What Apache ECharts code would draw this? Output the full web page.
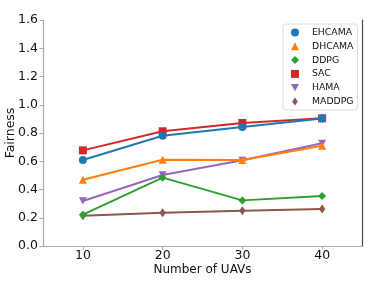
<!DOCTYPE html>
<html>
<head>
<meta charset="utf-8">
<script src="https://cdn.jsdelivr.net/npm/echarts@6/dist/echarts.min.js"></script>
<style>html,body{margin:0;padding:0;background:#fff;}#c{width:382px;height:285px;}</style>
</head>
<body>
<div id="c"></div>
<script>
var uavs = [10, 20, 30, 40];
var yTicks = [0, 0.2, 0.4, 0.6, 0.8, 1.0, 1.2, 1.4, 1.6];
var EHCAMA = [0.609, 0.781, 0.842, 0.903];
var DHCAMA = [0.469, 0.611, 0.609, 0.710];
var DDPG   = [0.222, 0.484, 0.323, 0.354];
var SAC    = [0.677, 0.812, 0.871, 0.904];
var HAMA   = [0.319, 0.503, 0.607, 0.727];
var MADDPG = [0.215, 0.236, 0.250, 0.262];

var names = ['EHCAMA','DHCAMA','DDPG','SAC','HAMA','MADDPG'];
var vals = [EHCAMA, DHCAMA, DDPG, SAC, HAMA, MADDPG];
var colors = ['#1f77b4','#ff7f0e','#2ca02c','#d62728','#9467bd','#8c564b'];
var symbols = ['circle','triangle','diamond','rect','path://M0,0 L10,0 L5,9 Z','path://M5,0 L8.5,5 L5,10 L1.5,5 Z'];
var sizes = [8, 8, 8, 8, 8, 9];

var series = names.map(function(n, i){
  return {
    name: n, type: 'line',
    data: uavs.map(function(x, j){ return [x, vals[i][j]]; }),
    symbol: symbols[i], symbolSize: sizes[i], symbolKeepAspect: true,
    lineStyle: {color: colors[i], width: 2},
    itemStyle: {color: colors[i]},
    z: 10 - i
  };
});

var chart = echarts.init(document.getElementById('c'));
chart.setOption({
  animation: false,
  grid: {left: 43, right: 20, top: 20, bottom: 39, containLabel: false, outerBoundsMode: 'none'},
  xAxis: {
    type: 'value', min: 5, max: 45,
    name: 'Number of UAVs', nameLocation: 'middle', nameGap: 18, nameMoveOverlap: false,
    nameTextStyle: {fontFamily: 'DejaVu Sans', fontSize: 12, color: '#111'},
    axisLine: {lineStyle: {color: '#aaa', width: 1.2}},
    axisTick: {show: true, length: 3.5, lineStyle: {color: '#aaa'}, customValues: uavs},
    axisLabel: {fontFamily: 'DejaVu Sans', fontSize: 12.5, color: '#111', margin: 3, customValues: uavs},
    splitLine: {show: false}
  },
  yAxis: [{
    type: 'value', min: 0, max: 1.6, interval: 0.2,
    name: 'Fairness', nameLocation: 'middle', nameGap: 26, nameRotate: 90, nameMoveOverlap: false,
    nameTextStyle: {fontFamily: 'DejaVu Sans', fontSize: 12.5, color: '#111'},
    axisLine: {show: true, lineStyle: {color: '#aaa', width: 1.2}},
    axisTick: {show: true, length: 3.5, lineStyle: {color: '#aaa'}},
    axisLabel: {fontFamily: 'DejaVu Sans', fontSize: 12.5, color: '#111', margin: 5,
      formatter: function(v){ return v.toFixed(1); }},
    splitLine: {show: false}
  }, {
    type: 'value', min: 0, max: 1.6, position: 'right',
    axisLine: {show: true, lineStyle: {color: '#444', width: 1.2}},
    axisTick: {show: false}, axisLabel: {show: false}, splitLine: {show: false}
  }],
  legend: {
    left: 283, top: 24,
    orient: 'vertical', itemGap: 4.8, itemWidth: 8, itemHeight: 8,
    padding: [4, 4, 4, 8],
    borderColor: '#ddd', borderWidth: 1, borderRadius: 3, backgroundColor: '#fff',
    textStyle: {fontFamily: 'DejaVu Sans', fontSize: 9.3, color: '#111', padding: [0,0,0,8]},
    data: names.map(function(n, i){ return {name: n, icon: symbols[i]}; })
  },
  series: series
});
</script>
</body>
</html>
